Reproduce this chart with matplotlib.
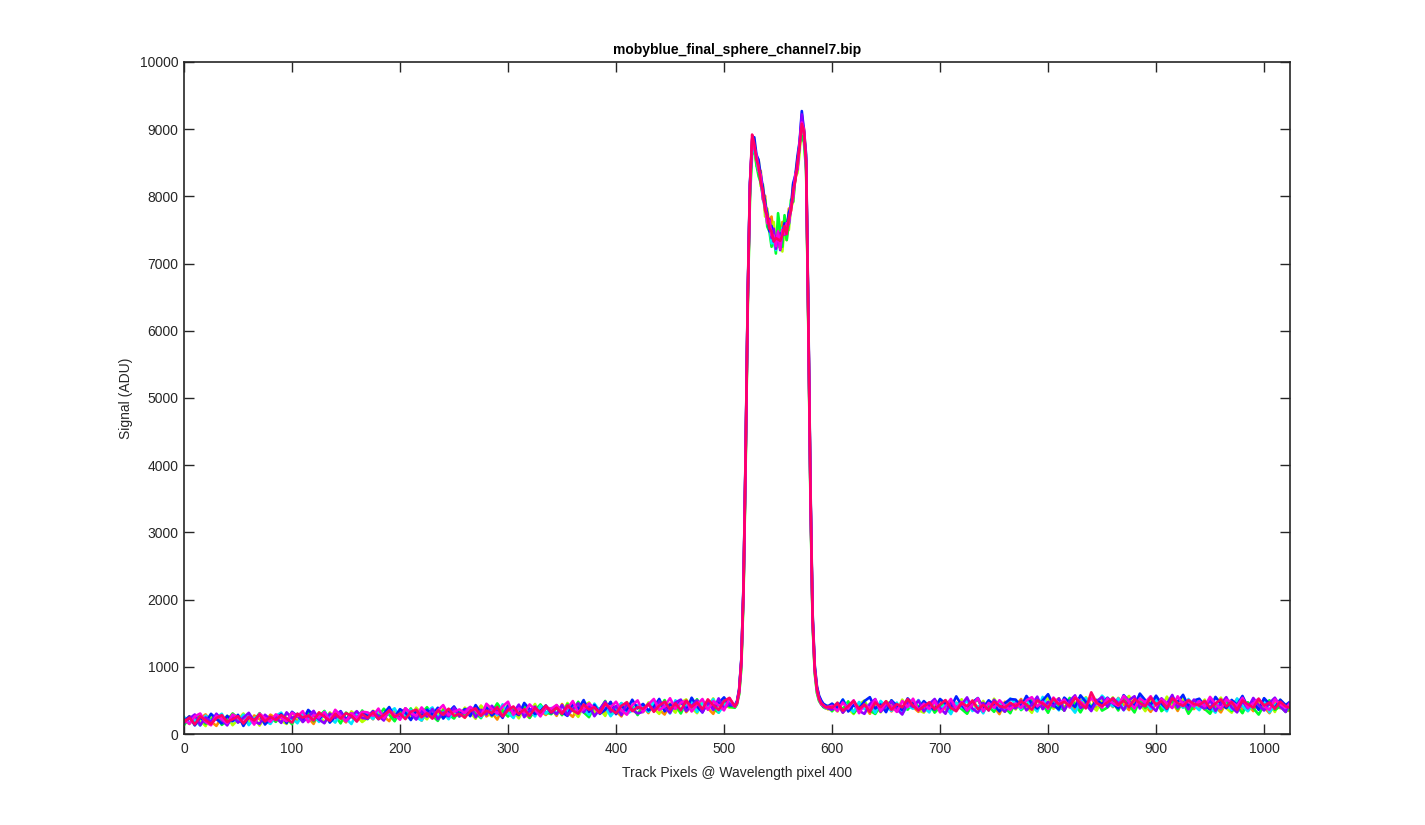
import matplotlib
matplotlib.use("Agg")
import matplotlib.pyplot as plt

# Track pixel positions of the samples (left baseline, peak, right baseline)
track_px = list(range(0, 510, 5)) + list(range(510, 598, 2)) + list(range(600, 1021, 5)) + [1023]

series_colors = ["#FF8C00", "#B4FF00", "#00FF2A", "#00E5FF", "#0022FF", "#8C00FF", "#FF00DD", "#FF0066"]

sig_orange = [
    160, 265, 138, 230, 292, 185, 121, 248, 206, 301, 172, 239, 145, 276, 219, 168, 288,
    232, 178, 310, 255, 190, 297, 241, 150, 322, 268, 205, 341, 246, 173, 314, 259, 210,
    305, 219, 352, 262, 192, 338, 281, 380, 240, 321, 198, 359, 290, 226, 372, 265, 331,
    345, 241, 383, 298, 420, 262, 320, 215, 389, 337, 271, 428, 305, 240, 401, 342, 283,
    381, 270, 446, 322, 255, 410, 355, 462, 290, 378, 318, 470, 339, 262, 431, 360, 301,
    412, 311, 478, 360, 290, 455, 352, 501, 325, 420, 347, 489, 384, 300, 466, 398, 482,
    410, 470, 650, 1090, 2160, 4160, 6560, 8160, 8700, 8780, 8520, 8400, 8380, 7950, 8010,
    7600, 7650, 7700, 7350, 7220, 7560, 7300, 7620, 7480, 7350, 7820, 7780, 8180, 8250,
    8560, 8740, 9050, 9020, 8560, 6250, 3650, 1760, 990, 700, 560, 480, 440, 420, 370,
    372, 468, 318, 412, 491, 355, 420, 301, 455, 389, 482, 336, 430, 372, 505, 401, 330,
    447, 351, 403, 512, 370, 315, 466, 418, 348, 498, 392, 325, 452, 405, 296, 480, 380,
    420, 520, 362, 451, 396, 503, 341, 470, 531, 398, 446, 357, 515, 420, 545, 381, 470,
    509, 400, 537, 438, 356, 482, 522, 418, 330, 455, 516, 390, 478, 343, 500, 432, 371,
    455, 362, 498, 401, 322, 468, 415, 520, 365, 440, 341, 486, 399, 310, 462, 383, 425,
    350,
]

sig_yellowgreen = [
    228, 149, 262, 196, 118, 281, 231, 170, 270, 131, 214, 305, 180, 243, 126, 257, 205,
    275, 196, 150, 318, 253, 183, 340, 228, 290, 165, 322, 238, 299, 200, 337, 262, 179,
    241, 346, 288, 210, 377, 302, 233, 330, 258, 392, 295, 219, 361, 310, 245, 368, 301,
    262, 392, 320, 227, 419, 330, 258, 401, 296, 432, 345, 233, 388, 318, 447, 281, 398,
    318, 425, 291, 462, 350, 255, 418, 470, 322, 372, 269, 448, 389, 300, 475, 345, 430,
    326, 470, 380, 300, 496, 402, 318, 468, 515, 386, 310, 482, 410, 530, 342, 443, 392,
    400, 480, 600, 1000, 2060, 4030, 6430, 8030, 8800, 8850, 8450, 8550, 8150, 8180, 7700,
    7820, 7550, 7380, 7620, 7300, 7250, 7420, 7180, 7560, 7650, 7500, 7830, 7920, 8280,
    8350, 8650, 9150, 8870, 8420, 6120, 3520, 1650, 910, 620, 500, 450, 400, 420, 370,
    410, 335, 476, 378, 298, 441, 498, 345, 418, 322, 487, 437, 340, 512, 380, 462, 355,
    318, 440, 501, 361, 455, 334, 409, 517, 312, 446, 379, 492, 351, 525, 410, 332, 458,
    365, 481, 407, 316, 502, 439, 541, 376, 463, 348, 515, 470, 388, 548, 420, 349, 506,
    427, 545, 373, 490, 566, 395, 452, 340, 520, 431, 366, 556, 402, 473, 530, 351, 458,
    398, 512, 340, 438, 541, 384, 318, 470, 497, 342, 421, 526, 367, 455, 328, 509, 392,
    441,
]

sig_green = [
    131, 246, 190, 289, 150, 222, 270, 136, 198, 305, 240, 152, 262, 208, 310, 167, 251,
    180, 290, 235, 146, 301, 240, 318, 190, 258, 343, 200, 275, 158, 319, 254, 205, 350,
    221, 330, 262, 376, 287, 190, 335, 255, 381, 228, 303, 399, 272, 195, 355, 291, 230,
    352, 263, 379, 311, 236, 402, 318, 455, 340, 260, 366, 297, 418, 240, 350, 440, 322,
    295, 389, 280, 445, 346, 480, 323, 250, 420, 361, 492, 301, 371, 455, 330, 415, 282,
    418, 330, 462, 371, 505, 340, 430, 305, 478, 389, 517, 352, 440, 381, 318, 496, 409,
    390, 440, 590, 980, 2030, 3980, 6380, 7980, 8620, 8720, 8470, 8300, 8200, 7980, 7950,
    7550, 7480, 7250, 7400, 7150, 7750, 7500, 7250, 7720, 7350, 7600, 7950, 7920, 8300,
    8500, 8800, 8900, 8800, 8380, 6080, 3480, 1630, 900, 610, 490, 440, 400, 380, 420,
    338, 441, 372, 486, 310, 400, 460, 351, 298, 425, 376, 499, 335, 415, 362, 477, 412,
    360, 462, 318, 406, 495, 352, 429, 370, 302, 455, 511, 355, 410, 330, 483, 393, 309,
    487, 356, 428, 517, 371, 445, 316, 490, 405, 352, 538, 438, 322, 466, 392, 508, 348,
    395, 479, 350, 526, 431, 321, 505, 386, 452, 551, 340, 413, 494, 372, 467, 301, 418,
    489, 373, 302, 446, 366, 510, 344, 409, 310, 472, 384, 289, 431, 502, 358, 412, 329,
    380,
]

sig_cyan = [
    255, 165, 212, 125, 273, 190, 245, 301, 147, 224, 176, 288, 132, 230, 279, 196, 150,
    270, 318, 185, 238, 160, 300, 219, 281, 180, 330, 242, 170, 296, 230, 149, 315, 285,
    305, 222, 356, 248, 320, 382, 231, 296, 361, 252, 200, 340, 395, 246, 325, 220, 350,
    265, 365, 310, 410, 251, 330, 378, 280, 441, 315, 238, 392, 276, 360, 261, 420, 303,
    388, 298, 421, 335, 470, 310, 372, 286, 452, 340, 405, 265, 362, 461, 300, 350, 430,
    415, 331, 488, 372, 430, 305, 502, 358, 410, 485, 326, 458, 381, 519, 320, 421, 492,
    420, 465, 640, 1070, 2130, 4130, 6530, 8130, 8820, 8680, 8560, 8380, 8330, 7960, 7820,
    7640, 7580, 7300, 7340, 7200, 7420, 7260, 7530, 7470, 7540, 7580, 7880, 8030, 8320,
    8430, 8820, 9120, 8980, 8460, 6170, 3570, 1690, 950, 650, 530, 450, 430, 390, 400,
    431, 352, 512, 390, 330, 476, 371, 445, 315, 492, 402, 345, 468, 301, 420, 376, 505,
    395, 322, 480, 372, 435, 296, 462, 395, 501, 342, 416, 308, 489, 381, 450, 349, 528,
    455, 371, 509, 419, 335, 552, 400, 466, 352, 497, 418, 318, 482, 535, 390, 447, 570,
    486, 410, 531, 353, 462, 397, 558, 491, 371, 512, 430, 338, 545, 465, 390, 520, 425,
    355, 481, 399, 318, 502, 432, 360, 529, 414, 340, 463, 386, 521, 322, 426, 487, 352,
    413,
]

sig_blue = [
    194, 262, 128, 248, 175, 300, 222, 156, 270, 190, 285, 120, 252, 198, 293, 141, 236,
    225, 296, 162, 330, 265, 200, 358, 281, 222, 312, 170, 260, 340, 215, 306, 240, 322,
    262, 338, 221, 301, 401, 249, 370, 316, 208, 348, 266, 362, 288, 391, 230, 325, 410,
    290, 371, 265, 430, 315, 395, 275, 342, 240, 421, 330, 282, 462, 368, 298, 345, 425,
    310, 418, 322, 270, 455, 370, 505, 330, 432, 300, 362, 478, 295, 416, 350, 510, 380,
    448, 351, 400, 522, 338, 441, 381, 490, 352, 540, 411, 322, 487, 370, 462, 545, 426,
    430, 490, 670, 1110, 2210, 4210, 6610, 8210, 8760, 8880, 8620, 8540, 8310, 8140, 7900,
    7750, 7480, 7560, 7330, 7400, 7380, 7450, 7440, 7600, 7540, 7760, 7850, 8200, 8310,
    8600, 8820, 9270, 8980, 8620, 6320, 3720, 1800, 1020, 710, 570, 500, 450, 430, 410,
    452, 386, 512, 335, 431, 371, 490, 548, 379, 440, 325, 501, 420, 356, 530, 445, 378,
    490, 408, 362, 521, 452, 390, 560, 426, 348, 471, 535, 387, 502, 433, 336, 458, 520,
    512, 405, 566, 450, 380, 499, 592, 430, 366, 541, 470, 402, 575, 478, 390, 505, 441,
    540, 459, 381, 578, 488, 415, 601, 503, 432, 570, 452, 372, 535, 476, 583, 411, 498,
    525, 416, 366, 552, 450, 386, 507, 432, 566, 400, 480, 360, 533, 447, 389, 510, 430,
    468,
]

sig_purple = [
    162, 230, 290, 131, 247, 180, 302, 210, 128, 275, 170, 242, 315, 190, 150, 286, 218,
    250, 165, 322, 232, 296, 178, 258, 344, 215, 160, 305, 236, 330, 195, 262, 340, 241,
    226, 335, 270, 201, 360, 288, 240, 382, 300, 215, 345, 258, 372, 220, 320, 262, 390,
    261, 342, 401, 248, 360, 290, 420, 326, 262, 392, 320, 437, 251, 347, 408, 280, 386,
    360, 296, 431, 280, 373, 457, 322, 430, 265, 371, 482, 330, 418, 280, 450, 362, 306,
    330, 450, 352, 488, 392, 315, 470, 512, 340, 420, 501, 322, 474, 358, 530, 380, 452,
    415, 470, 660, 1100, 2180, 4190, 6580, 8180, 8840, 8750, 8610, 8430, 8260, 8010, 7880,
    7680, 7660, 7380, 7520, 7220, 7460, 7200, 7500, 7430, 7520, 7600, 7830, 8010, 8290,
    8410, 8790, 9220, 8940, 8540, 6230, 3630, 1730, 980, 680, 540, 470, 410, 410, 380,
    362, 462, 318, 420, 495, 345, 300, 447, 520, 331, 418, 486, 372, 290, 459, 401, 498,
    336, 446, 521, 386, 302, 480, 362, 440, 545, 378, 318, 463, 350, 508, 405, 331, 432,
    380, 497, 352, 441, 556, 369, 480, 409, 530, 346, 492, 575, 384, 438, 341, 491, 548,
    402, 533, 462, 356, 505, 562, 380, 487, 418, 343, 531, 450, 581, 394, 477, 366, 512,
    420, 380, 505, 345, 450, 548, 395, 322, 488, 382, 536, 429, 350, 462, 540, 410, 328,
    447,
]

sig_magenta = [
    220, 150, 262, 305, 178, 130, 270, 224, 160, 290, 241, 172, 256, 140, 303, 236, 181,
    292, 240, 190, 318, 262, 340, 176, 286, 245, 325, 200, 360, 275, 188, 310, 238, 331,
    321, 270, 378, 235, 340, 285, 212, 380, 318, 270, 395, 300, 236, 352, 430, 280, 331,
    365, 310, 402, 350, 270, 450, 372, 305, 411, 480, 286, 381, 318, 440, 360, 262, 398,
    375, 432, 330, 381, 490, 318, 370, 455, 382, 310, 441, 398, 480, 352, 288, 430, 500,
    330, 442, 521, 356, 412, 532, 375, 468, 490, 335, 440, 520, 360, 488, 427, 352, 531,
    405, 465, 620, 1060, 2130, 4120, 6520, 8120, 8860, 8720, 8600, 8380, 8320, 7970, 7860,
    7600, 7640, 7420, 7420, 7260, 7480, 7220, 7500, 7440, 7600, 7600, 7860, 7990, 8330,
    8420, 8800, 9100, 8990, 8480, 6190, 3590, 1700, 940, 650, 520, 440, 430, 395, 400,
    420, 342, 470, 377, 500, 310, 440, 382, 512, 348, 468, 415, 329, 491, 401, 525, 351,
    452, 372, 488, 322, 410, 521, 380, 476, 351, 436, 530, 336, 462, 390, 502, 420, 360,
    455, 390, 501, 548, 410, 480, 376, 542, 447, 512, 395, 550, 481, 412, 538, 460, 392,
    531, 460, 418, 566, 480, 380, 529, 469, 562, 415, 517, 455, 386, 561, 443, 488, 409,
    490, 412, 552, 448, 375, 511, 476, 419, 537, 392, 458, 525, 410, 360, 515, 440, 392,
    438,
]

sig_pinkred = [
    178, 244, 142, 262, 205, 150, 236, 281, 180, 219, 265, 156, 250, 203, 289, 186, 258,
    206, 281, 229, 170, 302, 244, 275, 200, 318, 255, 196, 298, 228, 310, 270, 185, 296,
    240, 322, 221, 285, 348, 256, 304, 222, 331, 362, 250, 312, 229, 352, 285, 376, 268,
    300, 245, 341, 382, 270, 348, 310, 401, 262, 355, 410, 296, 370, 268, 392, 320, 421,
    320, 392, 300, 425, 350, 302, 440, 362, 398, 315, 455, 369, 310, 420, 472, 341, 400,
    375, 445, 330, 422, 481, 365, 456, 352, 498, 401, 470, 372, 515, 430, 358, 490, 538,
    410, 458, 635, 1065, 2130, 4140, 6540, 8140, 8920, 8780, 8540, 8460, 8200, 8080, 7790,
    7720, 7520, 7480, 7330, 7380, 7360, 7340, 7420, 7560, 7440, 7680, 7790, 8090, 8230,
    8510, 8750, 9080, 8960, 8500, 6200, 3600, 1700, 950, 660, 520, 455, 430, 395, 405,
    392, 456, 345, 415, 492, 372, 438, 328, 470, 400, 488, 360, 445, 395, 520, 418, 352,
    410, 472, 368, 438, 505, 390, 338, 462, 415, 496, 371, 433, 355, 480, 420, 392, 466,
    412, 486, 437, 362, 501, 452, 398, 527, 440, 478, 418, 540, 455, 381, 620, 462, 418,
    470, 530, 432, 497, 398, 520, 460, 411, 545, 436, 488, 380, 532, 462, 415, 505, 445,
    430, 492, 386, 455, 515, 410, 476, 360, 500, 442, 392, 521, 424, 468, 375, 480, 412,
    395,
]

all_series = [sig_orange, sig_yellowgreen, sig_green, sig_cyan,
              sig_blue, sig_purple, sig_magenta, sig_pinkred]

title_text = "mobyblue_final_sphere_channel7.bip"
x_label = "Track Pixels @ Wavelength pixel 400"
y_label = "Signal (ADU)"
x_ticks = [0, 100, 200, 300, 400, 500, 600, 700, 800, 900, 1000]
y_ticks = [0, 1000, 2000, 3000, 4000, 5000, 6000, 7000, 8000, 9000, 10000]

plt.rcParams["font.family"] = ["Liberation Sans", "DejaVu Sans"]

fig = plt.figure(figsize=(14.25, 8.25), dpi=100)
ax = fig.add_axes([184 / 1425, 1 - 734 / 825, (1290 - 184) / 1425, (734 - 62) / 825])

for vals, col in zip(all_series, series_colors):
    n = min(len(vals), len(track_px))
    ax.plot(track_px[:n], vals[:n], color=col, lw=1.9, solid_joinstyle="round")

ax.set_xlim(0, 1024)
ax.set_ylim(0, 10000)
ax.set_xticks(x_ticks)
ax.set_yticks(y_ticks)
ax.tick_params(direction="in", length=7, width=1.0, top=True, right=True,
               labelsize=10, colors="#262626")
ax.tick_params(axis="y", pad=4)
ax.tick_params(axis="x", pad=6)
for sp in ax.spines.values():
    sp.set_linewidth(1.2)
    sp.set_color("#262626")

ax.set_title(title_text, fontsize=10, fontweight="bold", color="black", pad=6)
ax.set_xlabel(x_label, fontsize=10, color="#262626", labelpad=7)
ax.set_ylabel(y_label, fontsize=10, color="#262626", labelpad=5)

fig.savefig("out.png", dpi=100, facecolor="white")
